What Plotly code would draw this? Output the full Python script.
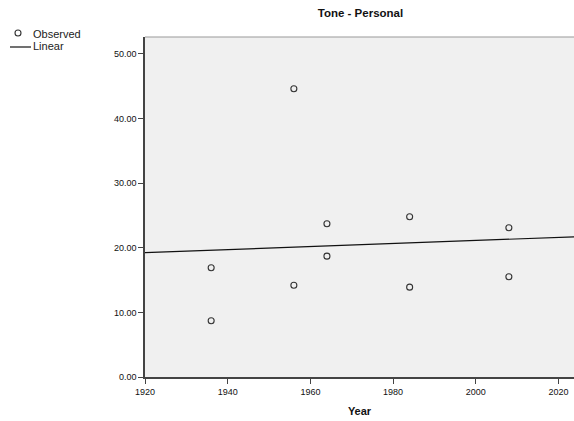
import numpy as np
import plotly.graph_objects as go

years = [1936, 1936, 1956, 1956, 1964, 1964, 1984, 1984, 2008, 2008]
tone_personal = [16.9, 8.7, 44.6, 14.2, 23.7, 18.7, 24.8, 13.9, 23.1, 15.5]
x_ticks = [1920, 1940, 1960, 1980, 2000, 2020]
y_ticks = [0, 10, 20, 30, 40, 50]
x_range = [1920, 2023.75]
y_range = [0, 52.6]
legend_labels = ["Observed", "Linear"]

slope, intercept = np.polyfit(years, tone_personal, 1)
fit_x = np.array(x_range)
fit_y = slope * fit_x + intercept

W, H = 574, 421
ML, MR, MT, MB = 145, 0, 37, 44
PW, PH = W - ML - MR, H - MT - MB


def px(xp):
    return (xp - ML) / PW


def py(yp):
    return (H - MB - yp) / PH


fig = go.Figure()
fig.add_trace(go.Scatter(
    x=years, y=tone_personal, mode="markers", name=legend_labels[0], showlegend=False,
    marker=dict(symbol="circle-open", size=6, color="#333333", line=dict(width=1.1, color="#333333")),
))
fig.add_trace(go.Scatter(
    x=fit_x, y=fit_y, mode="lines", name=legend_labels[1], showlegend=False,
    line=dict(color="#111111", width=1.2),
))

font_family = "Liberation Sans, Arial, sans-serif"

annotations = [
    dict(text=legend_labels[0], xref="paper", yref="paper", x=px(31), y=py(34), xanchor="left",
         yanchor="middle", showarrow=False, font=dict(size=11, color="#222222")),
    dict(text=legend_labels[1], xref="paper", yref="paper", x=px(31), y=py(46), xanchor="left",
         yanchor="middle", showarrow=False, font=dict(size=11, color="#222222")),
]
shapes = [
    dict(type="line", xref="paper", yref="paper", x0=0, x1=1, y0=1, y1=1,
         line=dict(color="#999999", width=1)),
    dict(type="circle", xref="paper", yref="paper", x0=px(15), x1=px(21), y0=py(30), y1=py(36),
         line=dict(color="#333333", width=1.1)),
    dict(type="line", xref="paper", yref="paper", x0=px(10), x1=px(31), y0=py(47), y1=py(47),
         line=dict(color="#111111", width=1.2)),
]

fig.update_layout(
    width=W, height=H,
    margin=dict(l=ML, r=MR, t=MT, b=MB, pad=0),
    paper_bgcolor="white", plot_bgcolor="#F0F0F0",
    font=dict(family=font_family, color="#222222"),
    title=dict(text="<b>Tone - Personal</b>", x=px(360.5), xanchor="center", xref="paper",
               y=(H - 13) / H, yanchor="middle", font=dict(size=11.5, color="#111111")),
    showlegend=False,
    annotations=annotations,
    shapes=shapes,
    xaxis=dict(range=x_range, tickvals=x_ticks, ticktext=[str(v) for v in x_ticks],
               showgrid=False, zeroline=False, showline=True, linecolor="#444444", linewidth=1.5,
               ticks="outside", ticklen=5, tickcolor="#444444", tickwidth=1.2,
               tickfont=dict(size=9, color="#111111"),
               title=dict(text="<b>Year</b>", font=dict(size=11, color="#111111"), standoff=12)),
    yaxis=dict(range=y_range, tickvals=y_ticks, ticktext=[f"{v:.2f}" for v in y_ticks],
               showgrid=False, zeroline=False, showline=True, linecolor="#444444", linewidth=1.5,
               ticks="outside", ticklen=5, tickcolor="#444444", tickwidth=1.2,
               tickfont=dict(size=9, color="#111111")),
)

fig.write_html("out.html", config={"displayModeBar": False})

with open("out.html", "r", encoding="utf-8") as f:
    html = f.read()
html = html.replace("<head>", "<head><style>html,body{margin:0;padding:0;overflow:hidden;}</style>", 1)
with open("out.html", "w", encoding="utf-8") as f:
    f.write(html)
